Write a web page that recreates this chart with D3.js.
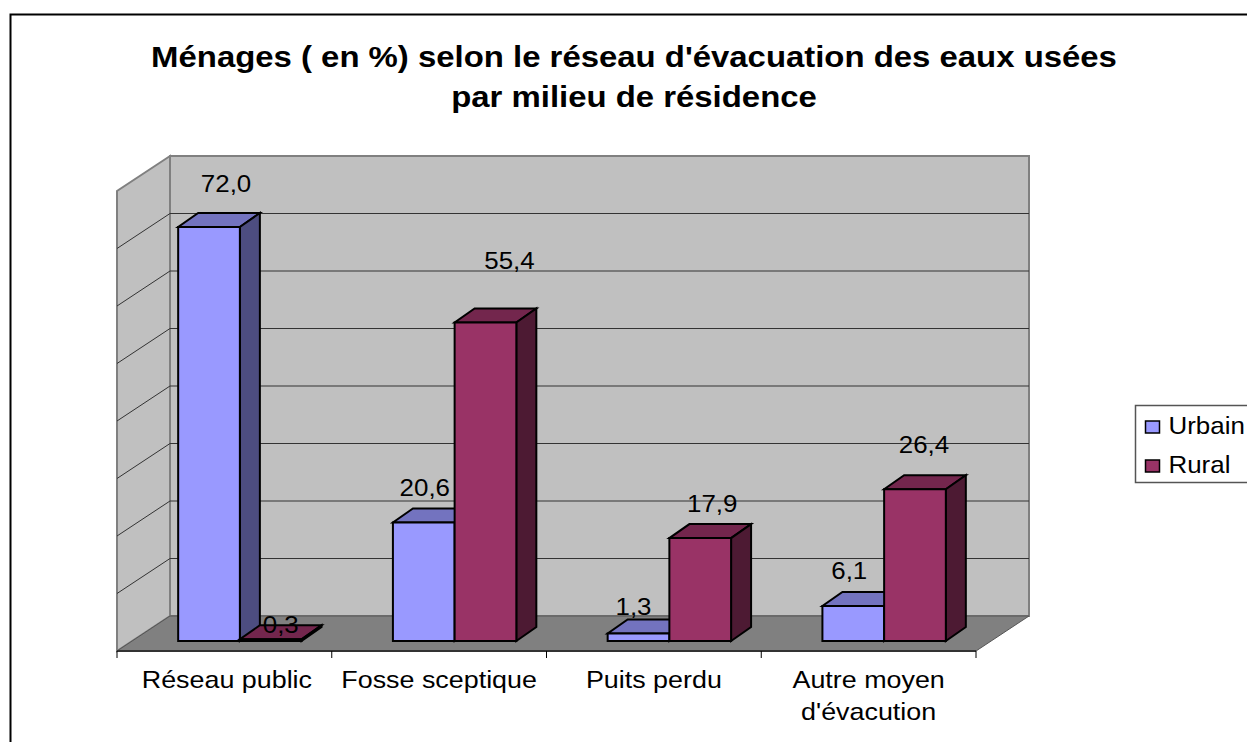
<!DOCTYPE html>
<html lang="en">
<head>
<meta charset="UTF-8">
<script src="https://d3js.org/d3.v7.min.js"></script>
<style>
    html, body { margin: 0; padding: 0; background: #fff; }
    svg { display: block; }
    text { font-family: "Liberation Sans", Arial, sans-serif; fill: #000; }
</style>
</head>
<body>
<div id="chart_area"></div>
<script>
var categories = ["Réseau public", "Fosse sceptique", "Puits perdu", "Autre moyen d'évacution"];
var seriesNames = ["Urbain", "Rural"];
var urbain = [72.0, 20.6, 1.3, 6.1];
var rural = [0.3, 55.4, 17.9, 26.4];
var gridTicks = [0, 10, 20, 30, 40, 50, 60, 70, 80];
var titleLines = ["Ménages ( en %) selon le réseau d'évacuation des eaux usées", "par milieu de résidence"];

// the data labels were dragged by hand in the original, so each has its own nudge
var nudgeUrbain = [[17, -43], [1, -35], [-5, -27], [-4, -35]];
var nudgeRural = [[10, -14], [24, -61], [12, -34], [9, -44]];

var width = 1247, height = 742;

var colors = {
    Urbain: { front: "#9999ff", top: "#7373bf", side: "#4d4d80" },
    Rural: { front: "#993366", top: "#73264d", side: "#4d1a33" }
};

// plot box: front floor edge runs 117-976 at y 651, the walls are pushed back by (53, -35)
var floorY = 651, wallDx = 53, wallDy = -35;
var barDx = 20, barDy = -14, barShift = 15.5;

var x0 = d3.scaleBand().domain(categories).range([117, 976]);
var x1 = d3.scaleBand().domain(seriesNames).range([0, x0.bandwidth()]).paddingInner(0).paddingOuter(0.74);
var y = d3.scaleLinear().domain([0, 80]).range([0, 460]);

var svg = d3.select("#chart_area").append("svg")
    .attr("width", width)
    .attr("height", height);

function poly(points, fill, stroke, sw) {
    return svg.append("polygon")
        .attr("points", points.map(function (p) { return p.join(","); }).join(" "))
        .attr("fill", fill)
        .attr("stroke", stroke)
        .attr("stroke-width", sw)
        .attr("stroke-linejoin", "miter");
}

// the reference is stretched sideways, so text gets a horizontal scale too
function label(parent, tx, ty, str, size, sx, anchor, weight) {
    return parent.append("text")
        .attr("transform", "translate(" + tx + "," + ty + ") scale(" + sx + ",1)")
        .attr("text-anchor", anchor || "middle")
        .attr("font-size", size)
        .attr("font-weight", weight || "normal")
        .text(str);
}

// chart frame, runs off the bottom and right of the picture
svg.append("rect")
    .attr("x", 10.5).attr("y", 14.5)
    .attr("width", 1300).attr("height", 800)
    .attr("fill", "#fff").attr("stroke", "#000").attr("stroke-width", 2);

titleLines.forEach(function (t, i) {
    label(svg, 634, 67 + i * 40, t, 29, 1.135, "middle", "bold");
});

var left = x0.range()[0], right = x0.range()[1];
var wallH = y(80);

// side wall, back wall, floor
poly([[left, floorY], [left + wallDx, floorY + wallDy], [left + wallDx, floorY + wallDy - wallH], [left, floorY - wallH]], "#c0c0c0", "#808080", 2);
poly([[left + wallDx, floorY + wallDy], [right + wallDx, floorY + wallDy], [right + wallDx, floorY + wallDy - wallH], [left + wallDx, floorY + wallDy - wallH]], "#c0c0c0", "#808080", 2);
poly([[left, floorY], [right, floorY], [right + wallDx, floorY + wallDy], [left + wallDx, floorY + wallDy]], "#808080", "#555", 1);

// gridlines along side wall and back wall
gridTicks.slice(1, -1).forEach(function (t) {
    var gy = floorY - y(t);
    svg.append("path")
        .attr("d", "M" + left + "," + gy + "L" + (left + wallDx) + "," + (gy + wallDy) + "L" + (right + wallDx) + "," + (gy + wallDy))
        .attr("fill", "none")
        .attr("stroke", "#333")
        .attr("stroke-width", 1);
});

// base line and category ticks
svg.append("line")
    .attr("x1", left).attr("x2", right)
    .attr("y1", floorY).attr("y2", floorY)
    .attr("stroke", "#333").attr("stroke-width", 2);

categories.concat([null]).forEach(function (c) {
    var tx = c === null ? right : x0(c);
    svg.append("line")
        .attr("x1", tx).attr("x2", tx)
        .attr("y1", floorY).attr("y2", floorY + 7)
        .attr("stroke", "#000").attr("stroke-width", 1);
});

// category labels, wrap only the last one
categories.forEach(function (c, ci) {
    var words = c === "Autre moyen d'évacution" ? ["Autre moyen", "d'évacution"] : [c];
    words.forEach(function (w, i) {
        label(svg, x0(c) + x0.bandwidth() / 2 + (ci === 0 ? 2.5 : 0), 688 + i * 32, w, 24, 1.12);
    });
});

// bars, left to right so the neighbours overlap the way they do in the reference
var barBase = floorY - 10;
var series = [
    { name: "Urbain", values: urbain, nudge: nudgeUrbain },
    { name: "Rural", values: rural, nudge: nudgeRural }
];

categories.forEach(function (c, ci) {
    series.forEach(function (s) {
        var bx = x0(c) + x1(s.name) + barShift;
        var bw = x1.bandwidth();
        var topY = barBase - y(s.values[ci]);
        var col = colors[s.name];
        poly([[bx, topY], [bx + bw, topY], [bx + bw + barDx, topY + barDy], [bx + barDx, topY + barDy]], col.top, "#000", 2);
        poly([[bx + bw, barBase], [bx + bw + barDx, barBase + barDy], [bx + bw + barDx, topY + barDy], [bx + bw, topY]], col.side, "#000", 2);
        poly([[bx, barBase], [bx + bw, barBase], [bx + bw, topY], [bx, topY]], col.front, "#000", 2);
    });
});

// data labels go on last, 0,3 sits on top of the flat bar
categories.forEach(function (c, ci) {
    series.forEach(function (s) {
        var bx = x0(c) + x1(s.name) + barShift + x1.bandwidth() / 2;
        var topY = barBase - y(s.values[ci]);
        label(svg, bx + s.nudge[ci][0], topY + s.nudge[ci][1] + 8, d3.format(".1f")(s.values[ci]).replace(".", ","), 24, 1.08);
    });
});

// legend, cut off by the right edge like the reference
var legend = svg.append("g").attr("transform", "translate(1135.5,405.5)");
legend.append("rect")
    .attr("width", 130).attr("height", 77)
    .attr("fill", "#fff").attr("stroke", "#555").attr("stroke-width", 1.5);
seriesNames.forEach(function (n, i) {
    var ly = 21.5 + i * 39;
    legend.append("rect")
        .attr("x", 10).attr("y", ly - 6)
        .attr("width", 14).attr("height", 12)
        .attr("fill", colors[n].front)
        .attr("stroke", "#000").attr("stroke-width", 1.5);
    label(legend, 33, ly + 6.5, n, 24, 1.08, "start");
});
</script>
</body>
</html>
